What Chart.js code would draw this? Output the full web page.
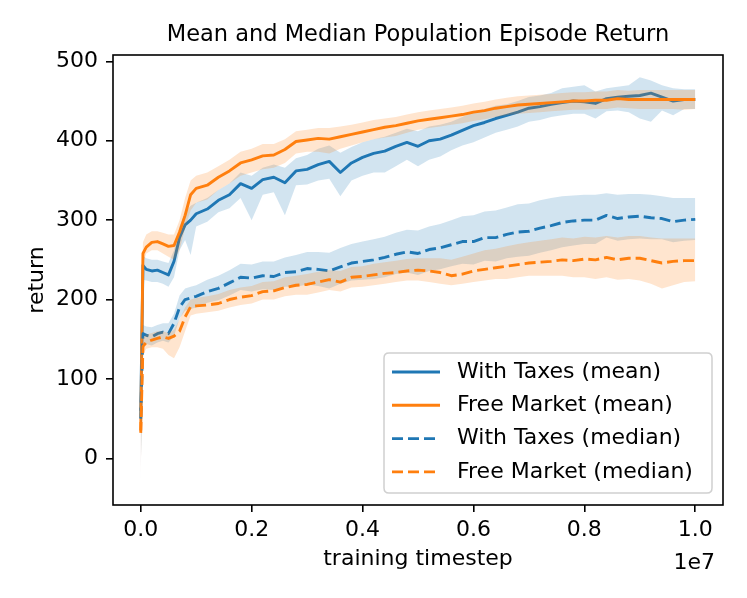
<!DOCTYPE html>
<html><head><meta charset="utf-8">
<script src="https://cdn.jsdelivr.net/npm/chart.js@4"></script>
<style>html,body{margin:0;padding:0;background:#fff;}#wrap{width:747px;height:598px;position:relative;}</style>
</head><body><div id="wrap"><canvas id="c"></canvas></div>
<script>
// training timestep, in units of 1e7
const timesteps = [0, 0.004, 0.01, 0.02, 0.03, 0.04, 0.05, 0.06, 0.07, 0.08, 0.09, 0.10,
  0.12, 0.14, 0.16, 0.18, 0.20, 0.22, 0.24, 0.26, 0.28, 0.30, 0.32, 0.34, 0.36, 0.38, 0.40,
  0.42, 0.44, 0.46, 0.48, 0.50, 0.52, 0.54, 0.56, 0.58, 0.60, 0.62, 0.64, 0.66, 0.68, 0.70,
  0.72, 0.74, 0.76, 0.78, 0.80, 0.82, 0.84, 0.86, 0.88, 0.90, 0.92, 0.94, 0.96, 0.98, 1.00];

const taxesMean = [60, 243, 238, 236, 237, 234, 231, 248, 278, 294, 300, 308,
  314, 325, 332, 346, 340, 351, 354, 347, 362, 364, 370, 374, 360, 372, 379,
  384, 387, 393, 398, 393, 400, 402, 407, 413, 419, 423, 428, 432, 436, 441,
  443, 446, 448, 450, 449, 447, 453, 455, 456, 457, 460, 455, 450, 452, 452];
const taxesMeanHi = [150, 255, 252, 250, 250, 248, 246, 262, 292, 310, 318, 322,
  328, 338, 346, 360, 356, 366, 370, 366, 378, 382, 390, 394, 385, 392, 398,
  402, 405, 410, 415, 412, 418, 420, 424, 430, 436, 440, 444, 446, 450, 455,
  457, 460, 466, 468, 470, 462, 466, 468, 470, 480, 476, 470, 466, 465, 465];
const taxesMeanLo = [-33, 225, 224, 222, 222, 220, 216, 228, 262, 275, 256, 292,
  298, 310, 315, 328, 300, 332, 335, 306, 344, 345, 350, 352, 330, 350, 356,
  360, 360, 368, 376, 368, 376, 380, 388, 394, 398, 404, 410, 414, 418, 424,
  426, 430, 432, 434, 434, 428, 437, 438, 436, 428, 424, 438, 432, 440, 440];

const marketMean = [35, 258, 266, 272, 273, 270, 267, 268, 285, 306, 332, 340,
  344, 354, 362, 372, 376, 381, 382, 389, 399, 401, 403, 402, 405, 408, 411,
  414, 417, 419, 422, 425, 427, 429, 431, 433, 436, 438, 441, 443, 445, 446,
  447, 448, 449, 450, 450, 451, 451, 453, 452, 452, 452, 452, 452, 452, 452];
const marketMeanHi = [120, 272, 282, 286, 286, 284, 282, 282, 300, 328, 350, 356,
  360, 368, 376, 386, 390, 396, 396, 402, 412, 414, 416, 416, 418, 420, 423,
  426, 428, 430, 433, 436, 438, 440, 442, 444, 447, 449, 452, 454, 456, 457,
  458, 459, 460, 461, 461, 462, 462, 464, 463, 464, 464, 464, 464, 464, 464];
const marketMeanLo = [-10, 245, 258, 262, 262, 258, 254, 250, 262, 290, 312, 322,
  326, 338, 346, 356, 360, 364, 366, 372, 384, 386, 386, 384, 390, 394, 398,
  402, 404, 406, 410, 414, 416, 418, 420, 422, 425, 427, 430, 432, 434, 435,
  436, 437, 438, 439, 439, 440, 440, 442, 441, 440, 440, 440, 440, 439, 440];

const taxesMedian = [50, 157, 155, 153, 157, 159, 157, 170, 190, 200, 202, 204,
  210, 214, 221, 228, 227, 230, 229, 234, 235, 239, 238, 236, 241, 246, 248,
  250, 253, 257, 260, 258, 263, 265, 269, 273, 273, 278, 278, 282, 285, 286,
  290, 293, 297, 299, 300, 300, 306, 302, 304, 305, 303, 302, 298, 300, 301];
const taxesMedianHi = [120, 168, 166, 165, 168, 170, 170, 182, 205, 214, 216, 218,
  225, 230, 237, 245, 244, 248, 248, 253, 256, 260, 260, 259, 265, 270, 273,
  276, 279, 284, 288, 287, 292, 295, 300, 305, 306, 311, 312, 316, 320, 321,
  325, 328, 330, 331, 332, 332, 334, 332, 333, 333, 332, 330, 328, 328, 328];
const taxesMedianLo = [-20, 145, 144, 142, 146, 148, 146, 154, 176, 186, 188, 190,
  196, 199, 205, 212, 210, 213, 212, 216, 216, 219, 217, 214, 220, 224, 225,
  226, 228, 232, 234, 231, 236, 238, 242, 245, 244, 249, 248, 252, 254, 255,
  259, 262, 266, 268, 270, 270, 278, 274, 276, 277, 276, 276, 272, 274, 275];

const marketMedian = [32, 141, 146, 149, 151, 153, 151, 154, 160, 178, 191, 192,
  193, 195, 200, 203, 205, 210, 211, 215, 218, 219, 222, 225, 222, 228, 229,
  231, 233, 234, 236, 237, 236, 234, 230, 232, 236, 238, 240, 242, 244, 246,
  247, 248, 250, 249, 251, 250, 253, 250, 252, 252, 249, 246, 248, 249, 249];
const marketMedianHi = [100, 152, 156, 158, 160, 160, 158, 162, 175, 190, 200, 202,
  204, 207, 212, 215, 217, 222, 223, 228, 230, 232, 235, 237, 236, 241, 242,
  245, 247, 249, 251, 252, 252, 252, 250, 254, 258, 262, 264, 267, 270, 272,
  274, 276, 278, 277, 279, 278, 280, 278, 280, 280, 278, 277, 277, 277, 277];
const marketMedianLo = [-20, 130, 138, 140, 140, 138, 130, 126, 140, 160, 180, 182,
  184, 186, 190, 193, 195, 200, 200, 204, 206, 206, 209, 212, 210, 215, 216,
  218, 220, 222, 224, 224, 222, 220, 218, 220, 222, 224, 226, 226, 228, 230,
  230, 230, 230, 228, 228, 226, 228, 225, 226, 224, 220, 214, 218, 222, 223];

const seriesLabels = ['With Taxes (mean)', 'Free Market (mean)', 'With Taxes (median)', 'Free Market (median)'];
const xTicks = [0, 0.2, 0.4, 0.6, 0.8, 1.0];
const yTicks = [0, 100, 200, 300, 400, 500];
const titleText = 'Mean and Median Population Episode Return';
const xLabel = 'training timestep';
const yLabel = 'return';
const xOffsetText = '1e7';

const BLUE = '#1f77b4', ORANGE = '#ff7f0e';
const BLUE_F = 'rgba(31,119,180,0.2)', ORANGE_F = 'rgba(255,127,14,0.2)';
const LW = 2.9, DASH = [11, 5];
const FONT = "'DejaVu Sans', 'Liberation Sans', sans-serif";

function pts(ys) { return ys.map((y, i) => ({ x: timesteps[i], y })); }
function band(lo, hi, color, order) {
  return [
    { label: '_lo', data: pts(lo), borderColor: 'rgba(0,0,0,0)', borderWidth: 0, pointRadius: 0, fill: false, order },
    { label: '_hi', data: pts(hi), borderColor: 'rgba(0,0,0,0)', borderWidth: 0, pointRadius: 0, fill: '-1', backgroundColor: color, order }
  ];
}
function line(label, ys, color, dashed, order) {
  return { label, data: pts(ys), borderColor: color, borderWidth: LW, pointRadius: 0, fill: false,
    tension: 0, borderDash: dashed ? DASH : [], borderCapStyle: 'butt', borderJoinStyle: 'round', order, isSeries: true };
}

const datasets = [
  ...band(taxesMeanLo, taxesMeanHi, BLUE_F, 8),
  line(seriesLabels[0], taxesMean, BLUE, false, 7),
  ...band(marketMeanLo, marketMeanHi, ORANGE_F, 6),
  line(seriesLabels[1], marketMean, ORANGE, false, 5),
  ...band(taxesMedianLo, taxesMedianHi, BLUE_F, 4),
  line(seriesLabels[2], taxesMedian, BLUE, true, 3),
  ...band(marketMedianLo, marketMedianHi, ORANGE_F, 2),
  line(seriesLabels[3], marketMedian, ORANGE, true, 1)
];

const mplPlugin = {
  id: 'mplDecor',
  afterDatasetsDraw(chart) {
    const { ctx, chartArea: a } = chart;
    ctx.save();
    // axes frame
    ctx.strokeStyle = '#000'; ctx.lineWidth = 1.6; ctx.setLineDash([]);
    ctx.strokeRect(a.left, a.top, a.right - a.left, a.bottom - a.top);
    // title centred over the axes
    ctx.fillStyle = '#000';
    ctx.font = '22.5px ' + FONT; ctx.textAlign = 'center'; ctx.textBaseline = 'middle';
    ctx.fillText(titleText, (a.left + a.right) / 2, 35.3);
    // legend
    const bx = a.left + 271, by = a.top + 298, bw = 328, bh = 140, r = 5;
    ctx.beginPath();
    ctx.moveTo(bx + r, by); ctx.lineTo(bx + bw - r, by); ctx.quadraticCurveTo(bx + bw, by, bx + bw, by + r);
    ctx.lineTo(bx + bw, by + bh - r); ctx.quadraticCurveTo(bx + bw, by + bh, bx + bw - r, by + bh);
    ctx.lineTo(bx + r, by + bh); ctx.quadraticCurveTo(bx, by + bh, bx, by + bh - r);
    ctx.lineTo(bx, by + r); ctx.quadraticCurveTo(bx, by, bx + r, by); ctx.closePath();
    ctx.fillStyle = 'rgba(255,255,255,0.8)'; ctx.fill();
    ctx.strokeStyle = '#d0d0d0'; ctx.lineWidth = 1.5; ctx.stroke();
    const series = chart.data.datasets.filter(d => d.isSeries);
    ctx.font = '22px ' + FONT; ctx.fillStyle = '#000'; ctx.textAlign = 'left'; ctx.textBaseline = 'middle';
    series.forEach((d, i) => {
      const y = by + 19 + i * 33.3;
      ctx.beginPath(); ctx.strokeStyle = d.borderColor; ctx.lineWidth = d.borderWidth;
      ctx.lineCap = 'butt'; ctx.setLineDash(d.borderDash || []);
      ctx.moveTo(bx + 8, y); ctx.lineTo(bx + 56, y); ctx.stroke();
      ctx.setLineDash([]);
      ctx.fillText(d.label, bx + 73, y);
    });
    // offset text for x axis
    ctx.textAlign = 'right'; ctx.textBaseline = 'alphabetic';
    ctx.fillText(xOffsetText, a.right - 8, 569);
    ctx.restore();
  }
};

Chart.defaults.font.family = FONT;
Chart.defaults.color = '#000';

new Chart(document.getElementById('c'), {
  type: 'line',
  data: { datasets },
  options: {
    responsive: true, maintainAspectRatio: false, animation: false,
    layout: { padding: { left: 0, right: 24, top: 55, bottom: 0 } },
    plugins: {
      legend: { display: false }, tooltip: { enabled: false }, title: { display: false }
    },
    scales: {
      x: {
        type: 'linear', min: -0.05, max: 1.05,
        afterBuildTicks: s => { s.ticks = xTicks.map(v => ({ value: v })); },
        afterFit: s => { s.height = 93; },
        ticks: { callback: v => Number(v).toFixed(1), color: '#000', font: { size: 22 }, padding: 5, maxRotation: 0, autoSkip: false },
        grid: { drawOnChartArea: false, drawTicks: true, tickLength: 7, tickWidth: 1.6, tickColor: '#000', color: '#000', lineWidth: 1.6 },
        border: { display: false },
        title: { display: true, text: xLabel, color: '#000', font: { size: 22 }, padding: { top: 0, bottom: 26 } }
      },
      y: {
        type: 'linear', min: -58.8, max: 508,
        afterBuildTicks: s => { s.ticks = yTicks.map(v => ({ value: v })); },
        afterFit: s => { s.width = 113; },
        ticks: { callback: v => String(v), color: '#000', font: { size: 22 }, padding: 8, autoSkip: false },
        grid: { drawOnChartArea: false, drawTicks: true, tickLength: 7, tickWidth: 1.6, tickColor: '#000', color: '#000', lineWidth: 1.6 },
        border: { display: false },
        title: { display: true, text: yLabel, color: '#000', font: { size: 22 }, padding: { top: 23.6, bottom: 0 } }
      }
    }
  },
  plugins: [mplPlugin]
});
</script></body></html>
